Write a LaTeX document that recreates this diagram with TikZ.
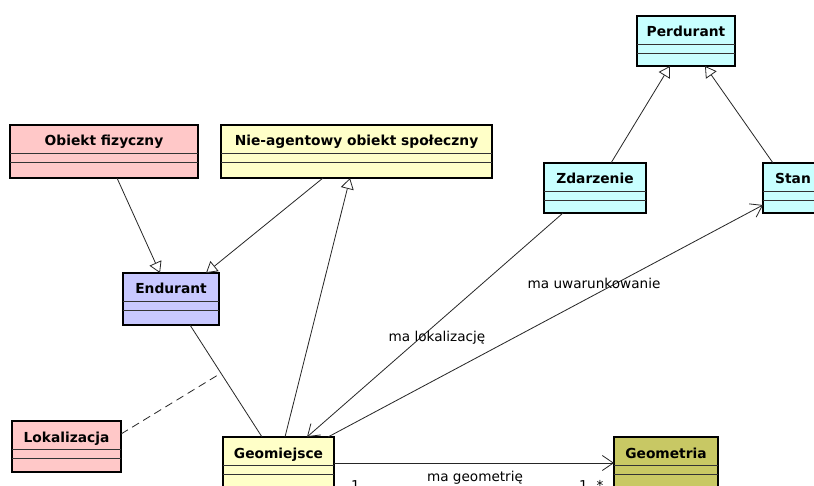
\documentclass[tikz,border=0pt]{standalone}
\usepackage{fontspec}
\setmainfont{DejaVu Sans}
\usetikzlibrary{arrows.meta}
\definecolor{cpink}{HTML}{FFC8C8}
\definecolor{cyel}{HTML}{FFFFC8}
\definecolor{ccyan}{HTML}{C8FFFF}
\definecolor{clav}{HTML}{C8C8FF}
\definecolor{colive}{HTML}{C8C864}
\tikzset{
  umlbox/.style={draw=black, line width=2pt, rectangle, inner sep=0pt, outer sep=0pt},
  umltitle/.style={font=\fontsize{13.8}{16}\selectfont\bfseries, anchor=base, inner sep=0pt},
  divider/.style={draw=black!80, line width=0.9pt},
  gen/.style={draw=black!85, line width=0.8pt, -{Triangle[open, length=11pt, width=13pt, fill=white]}},
  assoc/.style={draw=black!85, line width=0.8pt, -{Straight Barb[length=11pt, width=15pt]}},
  plain/.style={draw=black!85, line width=0.8pt},
  lbl/.style={font=\fontsize{13.6}{16}\selectfont, inner sep=0pt}
}
% name, x1, y1, x2, y2, colour, title
\newcommand\umlclass[7]{%
  \node[umlbox, fill=#6, minimum width={(#4)-(#2)}, minimum height={(#5)-(#3)}] (#1) at ({((#2)+(#4))/2},{((#3)+(#5))/2}) {};
  \draw[divider] ([yshift=-28pt]#1.north west) -- ([yshift=-28pt]#1.north east);
  \draw[divider] ([yshift=-37pt]#1.north west) -- ([yshift=-37pt]#1.north east);
  \node[umltitle] (#1t) at ([yshift=-21pt]#1.north) {#7};
}
\begin{document}
\begin{tikzpicture}[x=1pt, y=-1pt]
\useasboundingbox (0,0) rectangle (814,486);
\clip (0,0) rectangle (814,486);
\fill[white] (0,0) rectangle (814,486);

\umlclass{obf}{10}{125}{198}{178}{cpink}{Obiekt fizyczny}
\umlclass{nie}{221}{125}{492}{178}{cyel}{Nie-agentowy obiekt społeczny}
\umlclass{per}{637}{16}{735}{66}{ccyan}{Perdurant}
\umlclass{zda}{544}{163}{646}{213}{ccyan}{Zdarzenie}
\umlclass{stan}{763}{163}{823}{213}{ccyan}{Stan}
\umlclass{end}{123}{273}{219}{325}{clav}{Endurant}
\umlclass{lok}{12}{421}{121}{472}{cpink}{Lokalizacja}
\umlclass{geo}{223}{437}{334}{510}{cyel}{Geomiejsce}
\umlclass{gmt}{614}{437}{718}{510}{colive}{Geometria}

% generalizations
\draw[gen] ([xshift=107pt]obf.south west) -- ([xshift=37pt]end.north west);
\draw[gen] ([xshift=102pt]nie.south west) -- ([xshift=83pt]end.north west);
\draw[gen] ([xshift=62pt]geo.north west) -- ([xshift=129pt]nie.south west);
\draw[gen] ([xshift=67pt]zda.north west) -- ([xshift=33pt]per.south west);
\draw[gen] ([xshift=10pt]stan.north west) -- ([xshift=68pt]per.south west);

% association Endurant -- Geomiejsce with association class
\draw[plain] ([xshift=67pt]end.south west) -- coordinate[pos=0.43] (mid) ([xshift=39pt]geo.north west);
\draw[plain, dash pattern=on 8pt off 5pt] ([yshift=-13pt]lok.north east) -- (mid);

% directed associations
\draw[assoc] ([xshift=19pt]zda.south west) -- ([xshift=84pt]geo.north west);
\draw[assoc] ([xshift=105pt]geo.north west) -- ([yshift=8pt]stan.south west);
\draw[assoc] ([yshift=-26pt]geo.north east) -- ([yshift=-26pt]gmt.north west);

% labels
\node[lbl] (l1) at (437,338) {ma lokalizację};
\node[lbl] (l2) at (594,283) {ma uwarunkowanie};
\node[lbl, anchor=base] (l3) at (475,481) {ma geometrię};
\node[lbl, anchor=base west] (m1) at (351,490) {1};
\node[lbl, anchor=base west] (m2) at (579,490) {1..*};
\end{tikzpicture}
\end{document}
